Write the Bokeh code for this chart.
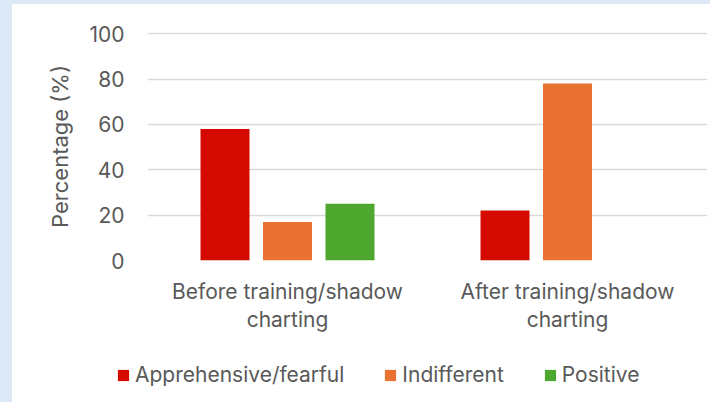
from bokeh.plotting import figure
from bokeh.models import ColumnDataSource, FactorRange, Range1d, Legend, LegendItem, Spacer
from bokeh.layouts import column, row
from bokeh.transform import dodge
from bokeh.embed import file_html
from bokeh.resources import INLINE

# ---- data ----
categories = ["Before training/shadow\ncharting", "After training/shadow\ncharting"]
series_names = ["Apprehensive/fearful", "Indifferent", "Positive"]
apprehensive = [58, 22]
indifferent = [17, 78]
positive = [25, 0]
y_ticks = [0, 20, 40, 60, 80, 100]

colors = ["#D40A00", "#E97132", "#4EA72E"]
FONT = "Inter"
TXT = "#595959"
BG = "#DDE9F6"

src = ColumnDataSource(dict(cat=categories, a=apprehensive, i=indifferent, p=positive))

# ---- main chart ----
p = figure(
    x_range=FactorRange(factors=categories, range_padding=0),
    y_range=Range1d(0, 100.5),
    width=698, height=336,
    output_backend="svg", toolbar_location=None,
    min_border_left=135, min_border_right=3,
    min_border_top=28, min_border_bottom=80,
)
p.frame_align = False
p.outline_line_color = None
p.background_fill_color = "white"
p.border_fill_color = "white"

offsets = [-0.2232, 0.0, 0.2232]
cols = ["a", "i", "p"]
for col, off, color in zip(cols, offsets, colors):
    p.vbar(x=dodge("cat", off, range=p.x_range), top=col, width=0.175,
           source=src, fill_color=color, line_color=None)

p.xgrid.visible = False
p.ygrid.grid_line_color = "#D9D9D9"
p.ygrid.grid_line_width = 1.5
p.ygrid.ticker = y_ticks

p.yaxis.ticker = y_ticks
p.yaxis.axis_line_color = None
p.yaxis.major_tick_line_color = None
p.yaxis.minor_tick_line_color = None
p.yaxis.major_label_standoff = 17
p.yaxis.major_label_text_font = FONT
p.yaxis.major_label_text_font_size = "21px"
p.yaxis.major_label_text_color = TXT
p.yaxis.axis_label = "Percentage (%)"
p.yaxis.axis_label_text_font = FONT
p.yaxis.axis_label_text_font_size = "22px"
p.yaxis.axis_label_text_font_style = "normal"
p.yaxis.axis_label_text_color = TXT
p.yaxis.axis_label_standoff = 13

p.xaxis.axis_line_color = None
p.xaxis.major_tick_line_color = None
p.xaxis.minor_tick_line_color = None
p.xaxis.major_label_standoff = 12
p.xaxis.major_label_text_font = FONT
p.xaxis.major_label_text_font_size = "21px"
p.xaxis.major_label_text_color = TXT
p.xaxis.major_label_text_line_height = 1.12

# ---- legend strip (separate figure so nothing is clipped) ----
p2 = figure(width=698, height=62, x_range=Range1d(0, 1), y_range=Range1d(0, 1),
            x_axis_type=None, y_axis_type=None,
            output_backend="svg", toolbar_location=None, min_border=0)
p2.frame_align = False
p2.outline_line_color = None
p2.grid.visible = False
p2.background_fill_color = "white"
p2.border_fill_color = "white"
# swatch renderers: one point each, outside the visible range (legend glyphs only)
offscreen = ColumnDataSource(dict(x=[5], top=[5]))
leg_renderers = [p2.vbar(x="x", top="top", width=0.1, source=offscreen,
                         fill_color=c, line_color=None) for c in colors]
items = [LegendItem(label=n, renderers=[r]) for n, r in zip(series_names, leg_renderers)]
leg = Legend(items=items, location=(104, 15), orientation="horizontal",
             glyph_width=14, glyph_height=14, label_standoff=5,
             label_height=14, padding=0, margin=0, spacing=39,
             border_line_color=None, background_fill_alpha=0,
             label_text_font=FONT, label_text_font_size="21px",
             label_text_color=TXT)
p2.add_layout(leg)

top_strip = Spacer(width=710, height=4, styles={"background-color": BG})
left_strip = Spacer(width=12, height=398, styles={"background-color": BG})
layout = column(top_strip, row(left_strip, column(p, p2, spacing=0), spacing=0), spacing=0)

open("out.html", "w").write(file_html(layout, INLINE))
